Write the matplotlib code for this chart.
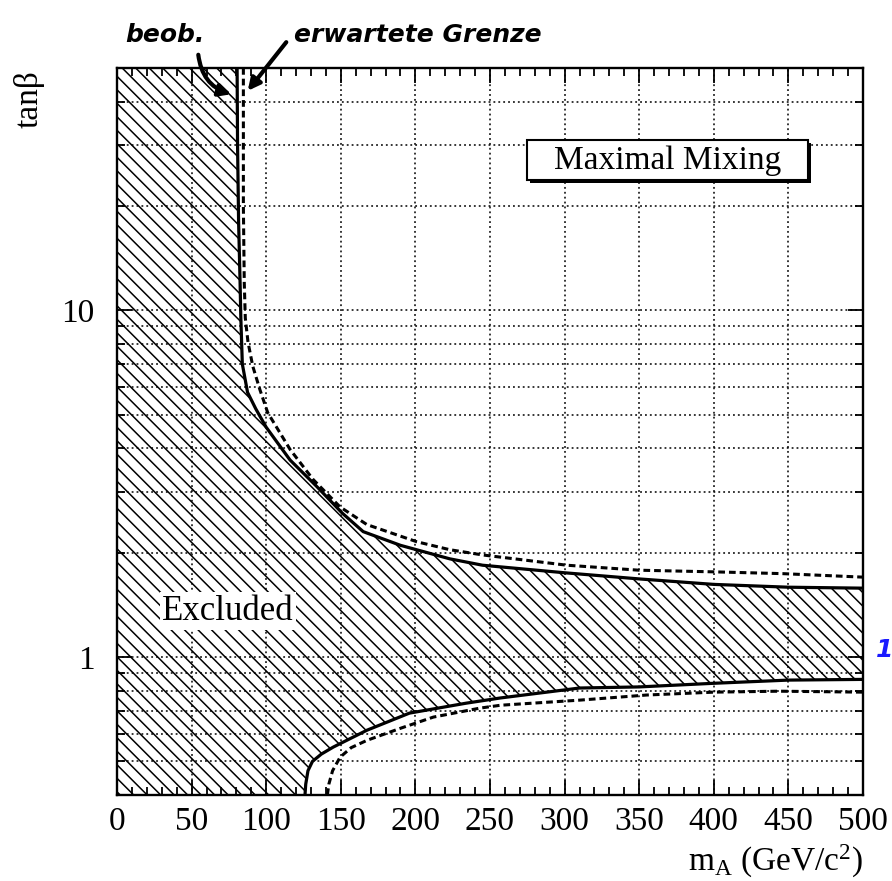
import numpy as np
import matplotlib
matplotlib.use("Agg")
import matplotlib.pyplot as plt
from matplotlib.collections import LineCollection
from matplotlib.patches import Rectangle
from matplotlib.ticker import FixedLocator, NullFormatter, MultipleLocator, FuncFormatter

plt.rcParams["font.family"] = ["Liberation Serif", "DejaVu Serif"]
plt.rcParams["mathtext.fontset"] = "custom"
plt.rcParams["mathtext.rm"] = "Liberation Serif"
plt.rcParams["mathtext.it"] = "Liberation Serif:italic"

# Observed exclusion limit, upper branch (m_A in GeV/c^2, tan beta)
obs_up_m = [80.5, 80.8, 81.5, 82.5, 83.0, 84.0, 87.5, 93, 100, 116, 134, 151,
            165, 190, 223, 245, 300, 350, 400, 450, 500]
obs_up_t = [50, 30, 18, 12, 9.5, 7.0, 5.8, 5.2, 4.6, 3.7, 3.1, 2.6,
            2.3, 2.1, 1.92, 1.84, 1.75, 1.68, 1.62, 1.59, 1.58]

# Observed exclusion limit, lower branch
obs_lo_m = [126, 126.5, 128, 131, 137, 145, 167.5, 196, 234, 257, 310, 350,
            400, 450, 500]
obs_lo_t = [0.4, 0.43, 0.47, 0.5, 0.525, 0.55, 0.615, 0.689, 0.736, 0.762,
            0.814, 0.82, 0.84, 0.858, 0.862]

# Expected limit, upper branch
exp_up_m = [84.7, 84.7, 85.3, 86, 87.8, 91, 95.8, 101, 116, 131.5, 149.5, 167.5,
            201, 223, 245, 301.5, 350, 402, 446, 500]
exp_up_t = [50, 20, 12, 9.5, 8.1, 6.9, 5.9, 5.07, 3.97, 3.25, 2.71, 2.41,
            2.15, 2.04, 1.97, 1.84, 1.78, 1.76, 1.74, 1.70]

# Expected limit, lower branch
exp_lo_m = [141, 142, 144.5, 149.5, 157, 167.5, 190, 212, 243, 257, 310, 355,
            400, 444, 500]
exp_lo_t = [0.4, 0.43, 0.47, 0.514, 0.548, 0.575, 0.623, 0.671, 0.712, 0.726,
            0.751, 0.777, 0.792, 0.797, 0.792]

x_ticks = [0, 50, 100, 150, 200, 250, 300, 350, 400, 450, 500]
y_major = [1, 10]

W, H = 892, 881
fig = plt.figure(figsize=(W / 100, H / 100), dpi=100)
ax_l, ax_r, ax_t, ax_b = 117, 863, 68, 795
ax = fig.add_axes([ax_l / W, 1 - ax_b / H, (ax_r - ax_l) / W, (ax_b - ax_t) / H])

ax.set_xlim(0, 500)
ax.set_yscale("log")
ax.set_ylim(0.4, 50)

# Excluded region: left of and between the observed branches
poly_x = [0, 0] + obs_up_m + obs_lo_m[::-1]
poly_y = [0.4, 50] + obs_up_t + obs_lo_t[::-1]
region = ax.fill(poly_x, poly_y, facecolor="none", edgecolor="none", zorder=1)[0]

# Diagonal hatching, drawn as clipped lines
pw, ph = ax_r - ax_l, ax_b - ax_t
step = 13.5 / pw
slope = ph / pw
starts = np.arange(-slope - 0.05, 1.05, step)
segs = [[(s, 1.0), (s + slope, 0.0)] for s in starts]
hatch = LineCollection(segs, colors="black", linewidths=1.1,
                       transform=ax.transAxes, zorder=1.5)
hatch.set_clip_path(region)
ax.add_collection(hatch)

# Grid
grid_kw = dict(color="black", linestyle=(0, (1.2, 2.0)), linewidth=1.1, zorder=2)
for xv in x_ticks[1:-1]:
    ax.axvline(xv, **grid_kw)
for dec in (0.1, 1, 10):
    for k in range(1, 10):
        yv = k * dec
        if 0.4 < yv < 50:
            ax.axhline(yv, **grid_kw)

# Limit curves
ax.plot(obs_up_m, obs_up_t, color="black", lw=2.3, zorder=4, solid_joinstyle="round")
ax.plot(obs_lo_m, obs_lo_t, color="black", lw=2.3, zorder=4, solid_joinstyle="round")
ax.plot(exp_up_m, exp_up_t, color="black", lw=2.2, zorder=4, dashes=(2.2, 1.3))
ax.plot(exp_lo_m, exp_lo_t, color="black", lw=2.2, zorder=4, dashes=(2.2, 1.3))

# Ticks
ax.xaxis.set_major_locator(FixedLocator(x_ticks))
ax.xaxis.set_minor_locator(MultipleLocator(10))
ax.yaxis.set_major_locator(FixedLocator(y_major))
ax.yaxis.set_major_formatter(FuncFormatter(lambda v, p: f"{v:g}"))
ax.yaxis.set_minor_locator(FixedLocator(
    [k * d for d in (0.1, 1, 10) for k in range(2, 10) if 0.4 <= k * d <= 50]))
ax.yaxis.set_minor_formatter(NullFormatter())
ax.tick_params(which="both", direction="in", top=True, right=True,
               color="black", width=1.3)
ax.tick_params(which="major", length=11, labelsize=24)
ax.tick_params(which="minor", length=6)
ax.tick_params(axis="x", which="major", pad=8)
ax.tick_params(axis="y", which="major", pad=16)
for sp in ax.spines.values():
    sp.set_linewidth(1.7)
    sp.set_zorder(5)

# Axis titles
fig.text(ax_r / W, 1 - 880 / H, r"m$_{\mathrm{A}}$ (GeV/c$^{2}$)", ha="right",
         va="bottom", fontsize=24)
fig.text(29 / W, 1 - 70 / H, "tanβ", rotation=90, ha="center", va="top", fontsize=24)

# Scenario box
bx0, bx1, by0, by1 = 527, 808, 140, 180
fig.patches.append(Rectangle((bx0 / W + 3 / W, 1 - (by1 + 3) / H), (bx1 - bx0) / W,
                             (by1 - by0) / H, transform=fig.transFigure,
                             facecolor="black", edgecolor="none", zorder=6))
fig.patches.append(Rectangle((bx0 / W, 1 - by1 / H), (bx1 - bx0) / W, (by1 - by0) / H,
                             transform=fig.transFigure, facecolor="white",
                             edgecolor="black", linewidth=1.5, zorder=7))
fig.text((bx0 + bx1) / 2 / W, 1 - 161 / H, "Maximal Mixing", ha="center",
         va="center", fontsize=24, zorder=8)

# Region label
fig.text(228 / W, 1 - 611 / H, "Excluded", ha="center", va="center", fontsize=25,
         zorder=8, bbox=dict(facecolor="white", edgecolor="none", pad=1.5))

# Handwritten notes
hand = dict(family="DejaVu Sans", fontweight="bold", fontstyle="italic",
            color="black", fontsize=18)
fig.text(125 / W, 1 - 35 / H, "beob.", ha="left", va="center", **hand)
fig.text(294 / W, 1 - 35 / H, "erwartete Grenze", ha="left", va="center", **hand)
fig.text(876 / W, 1 - 650 / H, "1", ha="left", va="center", color="#1a1aff",
         family="DejaVu Sans", fontweight="bold", fontstyle="italic", fontsize=18)

ax.annotate("", xy=(234, H - 95), xycoords="figure pixels",
            xytext=(198, H - 52), textcoords="figure pixels",
            arrowprops=dict(arrowstyle="-|>", lw=3, color="black", mutation_scale=18,
                            connectionstyle="arc3,rad=0.35"),
            annotation_clip=False)
ax.annotate("", xy=(246, H - 93), xycoords="figure pixels",
            xytext=(288, H - 40), textcoords="figure pixels",
            arrowprops=dict(arrowstyle="-|>", lw=3, color="black", mutation_scale=18),
            annotation_clip=False)

fig.savefig("out.png", dpi=100, facecolor="white")
